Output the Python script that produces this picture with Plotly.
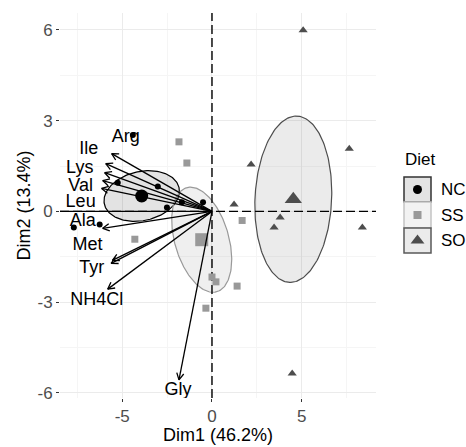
import numpy as np
import plotly.graph_objects as go

W, H = 466, 447

# ---------------- data ----------------
groups = ["NC", "SS", "SO"]
nc_x = [-4.41, -5.25, -3.02, -2.51, -1.68, -0.50, -7.70, -6.26]
nc_y = [2.53, 0.95, 0.82, 0.13, 0.30, 0.30, -0.53, -0.43]
ss_x = [-1.84, -1.40, 1.68, 0.00, 0.22, 1.40, -0.34, -4.30]
ss_y = [2.30, 1.60, -0.30, -2.17, -2.33, -2.47, -3.20, -0.92]
so_x = [5.08, 7.65, 2.18, 1.23, 3.80, 3.46, 8.38, 4.47]
so_y = [5.99, 2.07, 1.55, 0.23, -0.20, -0.53, -0.53, -5.36]

var_names = ["Arg", "Ile", "Lys", "Val", "Leu", "Ala", "Met", "Tyr", "NH4Cl", "Gly"]
var_x = [-5.59, -5.92, -5.98, -6.09, -6.15, -6.09, -5.55, -5.62, -5.81, -1.84]
var_y = [1.91, 1.58, 1.28, 1.02, 0.76, -0.56, -1.62, -1.72, -2.57, -5.57]
lab_x = [-4.80, -6.87, -7.37, -7.32, -7.32, -7.20, -6.93, -6.70, -6.42, -1.90]
lab_y = [2.43, 2.04, 1.41, 0.82, 0.30, -0.33, -1.12, -1.88, -2.93, -5.92]

x_ticks = [-5, 0, 5]
x_tick_labels = ["-5", "0", "5"]
y_ticks = [-6, -3, 0, 3, 6]
y_tick_labels = ["-6", "-3", "0", "3", "6"]
x_title = "Dim1 (46.2%)"
y_title = "Dim2 (13.4%)"
legend_title = "Diet"

# ---------------- layout geometry ----------------
XR = [-8.47, 9.14]
YR = [-6.17, 6.56]
PL, PR, PT, PB = 60, 376, 13, 398
sx = (PR - PL) / (XR[1] - XR[0])
sy = (PB - PT) / (YR[1] - YR[0])

colors = {"NC": "#000000", "SS": "#999999", "SO": "#4d4d4d"}
fills = {"NC": "rgba(0,0,0,0.11)", "SS": "rgba(153,153,153,0.16)", "SO": "rgba(77,77,77,0.11)"}
symbols = {"NC": "circle", "SS": "square", "SO": "triangle-up"}
psize = {"NC": 6, "SS": 7, "SO": 8}
msize = {"NC": 13, "SS": 13, "SO": 15}
data = {"NC": (nc_x, nc_y), "SS": (ss_x, ss_y), "SO": (so_x, so_y)}

FONT = "Liberation Sans, Arial, sans-serif"


def conf_ellipse(x, y, chi2=5.991, n=200):
    x = np.asarray(x, float)
    y = np.asarray(y, float)
    cov = np.cov(x, y) / len(x)
    vals, vecs = np.linalg.eigh(cov)
    t = np.linspace(0, 2 * np.pi, n)
    circ = np.vstack([np.cos(t), np.sin(t)])
    pts = vecs @ (np.sqrt(vals * chi2)[:, None] * circ)
    return x.mean() + pts[0], y.mean() + pts[1]


fig = go.Figure()

# ellipses
for g in groups:
    ex, ey = conf_ellipse(*data[g])
    fig.add_trace(go.Scatter(x=ex, y=ey, mode="lines", fill="toself",
                             fillcolor=fills[g], line=dict(color=colors[g], width=1.2),
                             hoverinfo="skip", showlegend=False))

# reference lines
fig.add_trace(go.Scatter(x=[0, 0], y=YR, mode="lines",
                         line=dict(color="black", width=1.4, dash="9px,4px"),
                         showlegend=False, hoverinfo="skip"))
fig.add_trace(go.Scatter(x=XR, y=[0, 0], mode="lines",
                         line=dict(color="black", width=1.4, dash="9px,4px"),
                         showlegend=False, hoverinfo="skip"))
fig.add_trace(go.Scatter(x=[XR[0], 0], y=[0, 0], mode="lines",
                         line=dict(color="black", width=1.2),
                         showlegend=False, hoverinfo="skip"))

# individual points and means
for g in groups:
    gx, gy = data[g]
    fig.add_trace(go.Scatter(x=gx, y=gy, mode="markers",
                             marker=dict(symbol=symbols[g], color=colors[g], size=psize[g]),
                             showlegend=False))
    fig.add_trace(go.Scatter(x=[np.mean(gx)], y=[np.mean(gy)], mode="markers",
                             marker=dict(symbol=symbols[g], color=colors[g], size=msize[g]),
                             showlegend=False))

# arrows
ax_, ay_ = [], []
hx_, hy_ = [], []
L = 7.5
a = np.radians(28)
for vx, vy in zip(var_x, var_y):
    ax_ += [0, vx, None]
    ay_ += [0, vy, None]
    px, py = vx * sx, vy * sy
    ang = np.arctan2(py, px)
    w1 = (px - L * np.cos(ang + a), py - L * np.sin(ang + a))
    w2 = (px - L * np.cos(ang - a), py - L * np.sin(ang - a))
    hx_ += [w1[0] / sx, vx, w2[0] / sx, None]
    hy_ += [w1[1] / sy, vy, w2[1] / sy, None]
fig.add_trace(go.Scatter(x=ax_, y=ay_, mode="lines", line=dict(color="black", width=1.3),
                         showlegend=False, hoverinfo="skip"))
fig.add_trace(go.Scatter(x=hx_, y=hy_, mode="lines", line=dict(color="black", width=1.3),
                         showlegend=False, hoverinfo="skip"))

# variable labels
fig.add_trace(go.Scatter(x=lab_x, y=lab_y, mode="text", text=var_names,
                         textfont=dict(family=FONT, size=18, color="black"),
                         showlegend=False, hoverinfo="skip"))

# ---------------- legend (manual, pixel overlay axis) ----------------
key_x0, key_x1 = 404, 431
key_rows = [(177, 202), (202, 228), (228, 253)]
key_fill = {"NC": "#e3e3e3", "SS": "#f2f2f2", "SO": "#ebebeb"}
key_border = {"NC": "#333333", "SS": "#c4c4c4", "SO": "#5a5a5a"}
leg_msize = {"NC": 9, "SS": 8, "SO": 12}
shapes = []
for g, (y0, y1) in zip(groups, key_rows):
    shapes.append(dict(type="rect", xref="x2", yref="y2", x0=key_x0, x1=key_x1, y0=y0, y1=y1,
                       fillcolor=key_fill[g], line=dict(color=key_border[g], width=1.5),
                       layer="below"))
    fig.add_trace(go.Scatter(x=[(key_x0 + key_x1) / 2], y=[(y0 + y1) / 2], mode="markers",
                             xaxis="x2", yaxis="y2",
                             marker=dict(symbol=symbols[g], color=colors[g], size=leg_msize[g]),
                             showlegend=False, hoverinfo="skip"))

annotations = []
annotations.append(dict(x=403, y=159, xref="x2", yref="y2", text=legend_title, showarrow=False,
                        xanchor="left", yanchor="middle", font=dict(family=FONT, size=17, color="black")))
for g, (y0, y1) in zip(groups, key_rows):
    annotations.append(dict(x=439, y=(y0 + y1) / 2, xref="x2", yref="y2", text=g, showarrow=False,
                            xanchor="left", yanchor="middle", font=dict(family=FONT, size=17, color="black")))
annotations.append(dict(x=(PL + PR) / 2, y=435, xref="x2", yref="y2", text=x_title, showarrow=False,
                        xanchor="center", yanchor="middle", font=dict(family=FONT, size=18, color="black")))
annotations.append(dict(x=23, y=(PT + PB) / 2, xref="x2", yref="y2", text=y_title, showarrow=False,
                        textangle=-90, xanchor="center", yanchor="middle",
                        font=dict(family=FONT, size=18, color="black")))

fig.update_layout(
    width=W, height=H, autosize=False,
    margin=dict(l=0, r=0, t=0, b=0, pad=0),
    paper_bgcolor="white", plot_bgcolor="rgba(0,0,0,0)",
    showlegend=False,
    shapes=shapes,
    annotations=annotations,
    xaxis=dict(domain=[PL / W, PR / W], range=XR, anchor="y", automargin=False,
               tickvals=x_ticks, ticktext=x_tick_labels, ticks="outside", ticklen=3,
               tickcolor="#333333", tickwidth=1, showline=False, zeroline=False,
               showgrid=True, gridcolor="#ebebeb", gridwidth=1,
               minor=dict(tickvals=[-7.5, -2.5, 2.5, 7.5], showgrid=True, gridcolor="#f5f5f5", ticks=""),
               tickfont=dict(family=FONT, size=17, color="#4d4d4d")),
    yaxis=dict(domain=[1 - PB / H, 1 - PT / H], range=YR, anchor="x", automargin=False,
               tickvals=y_ticks, ticktext=y_tick_labels, ticks="outside", ticklen=3,
               tickcolor="#333333", tickwidth=1, showline=False, zeroline=False,
               showgrid=True, gridcolor="#ebebeb", gridwidth=1,
               minor=dict(tickvals=[-4.5, -1.5, 1.5, 4.5], showgrid=True, gridcolor="#f5f5f5", ticks=""),
               tickfont=dict(family=FONT, size=17, color="#4d4d4d")),
    xaxis2=dict(domain=[0, 1], range=[0, W], anchor="y2", visible=False, fixedrange=True, automargin=False),
    yaxis2=dict(domain=[0, 1], range=[H, 0], anchor="x2", visible=False, fixedrange=True, automargin=False),
)

fig.write_html("out.html",
               config={"displayModeBar": False, "responsive": False},
               post_script="document.body.style.margin='0px';document.body.style.overflow='hidden';")
